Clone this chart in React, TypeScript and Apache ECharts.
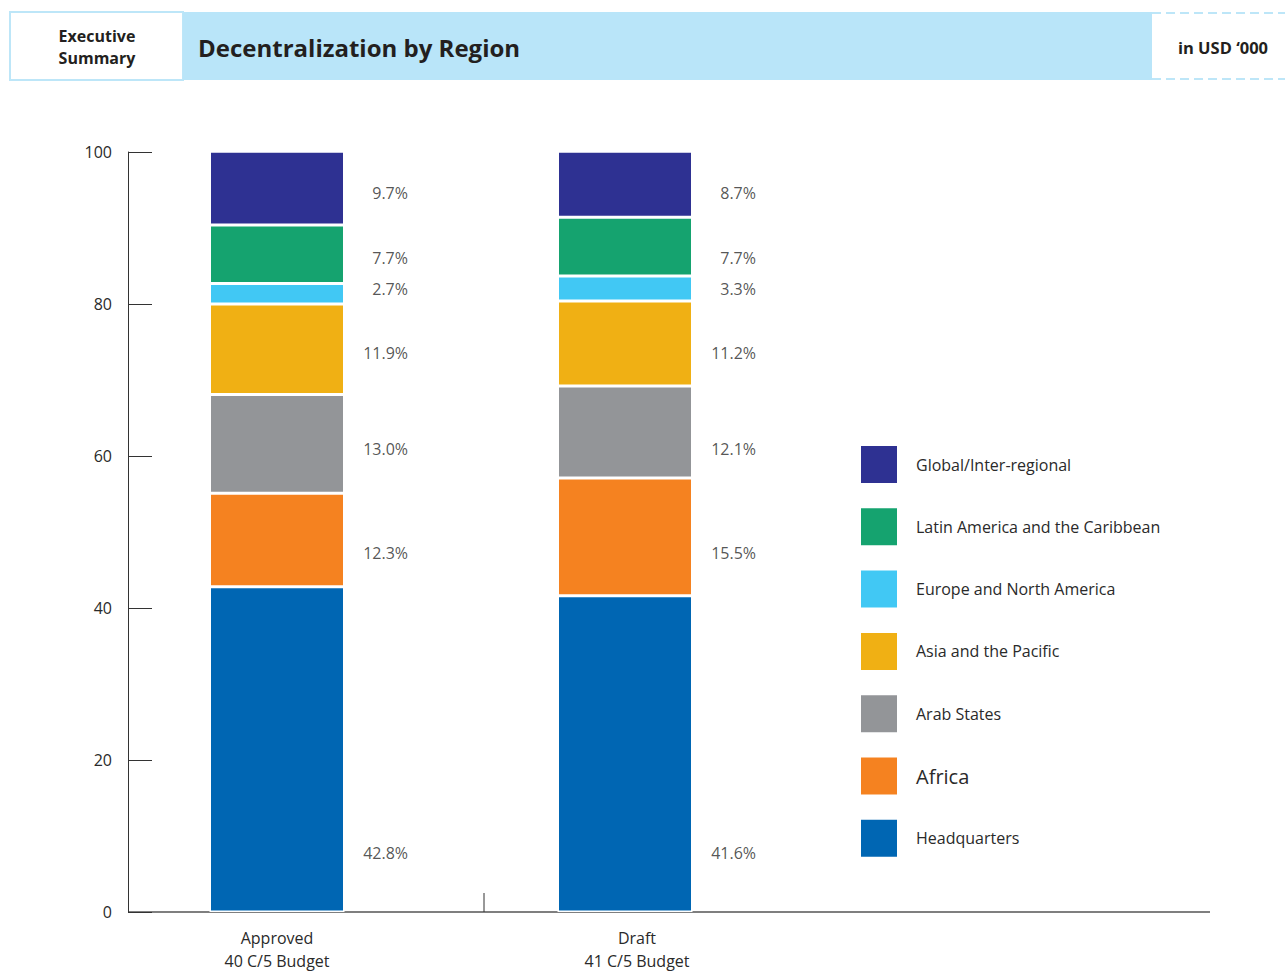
import React, { useEffect, useRef } from "react";
import * as echarts from "echarts";

const categories = ["Approved\n40 C/5 Budget", "Draft\n41 C/5 Budget"];
const seriesNames = [
  "Headquarters",
  "Africa",
  "Arab States",
  "Asia and the Pacific",
  "Europe and North America",
  "Latin America and the Caribbean",
  "Global/Inter-regional",
];
const approved = [42.8, 12.3, 13.0, 11.9, 2.7, 7.7, 9.7];
const draft = [41.6, 15.5, 12.1, 11.2, 3.3, 7.7, 8.7];
const colors = ["#0066b3", "#f58220", "#939598", "#f0b014", "#41c8f4", "#15a36f", "#2e3192"];
// vertical level (in axis units) where each percentage label sits
const labelLevels = [7.8, 47.2, 60.9, 73.6, 82.0, 86.1, 94.6];
const yMin = 0;
const yMax = 100;
const yInterval = 20;

const FONT = "'Open Sans', 'Noto Sans', sans-serif";

export default function App() {
  const ref = useRef<HTMLDivElement>(null);
  useEffect(() => {
    document.body.style.margin = "0";
    const chart = echarts.init(ref.current!, null, { renderer: "svg" });
    const values = [approved, draft];
    const barSeries = seriesNames.map((name, i) => ({
      name,
      type: "bar",
      stack: "total",
      barWidth: 135,
      data: [approved[i], draft[i]],
      itemStyle: { color: colors[i], borderColor: "#ffffff", borderWidth: 1.5 },
    }));
    const labelData: any[] = [];
    seriesNames.forEach((_, i) => {
      values.forEach((arr, c) => {
        labelData.push([c, labelLevels[i], arr[i]]);
      });
    });
    const option: any = {
      animation: false,
      textStyle: { fontFamily: FONT },
      grid: { left: 103, width: 696, top: 152, height: 760, outerBoundsMode: "none", containLabel: false },
      xAxis: {
        type: "category",
        data: categories,
        axisLine: { show: false },
        axisTick: { show: false },
        axisLabel: {
          fontSize: 16,
          lineHeight: 23,
          margin: 14,
          color: "#2a2a2a",
          fontFamily: FONT,
          formatter: (v: string, i: number) =>
            i === 1 ? v.split("\n").map((s) => "{d|" + s + "}").join("\n") : v,
          rich: { d: { fontSize: 16, lineHeight: 23, color: "#2a2a2a", fontFamily: FONT, padding: [0, 0, 0, 24] } },
        },
      },
      yAxis: {
        type: "value",
        min: yMin,
        max: yMax,
        interval: yInterval,
        offset: -25,
        axisLine: { show: true, lineStyle: { color: "#333", width: 1 } },
        axisTick: { show: true, inside: true, length: 24, lineStyle: { color: "#333", width: 1 } },
        axisLabel: { fontSize: 16, margin: 16, color: "#2a2a2a", fontFamily: FONT, padding: [0, 0, 3, 0] },
        splitLine: { show: false },
      },
      legend: {
        orient: "vertical",
        left: 859,
        top: 444,
        padding: 0,
        itemWidth: 38,
        itemHeight: 39,
        itemGap: 21.3,
        icon: "rect",
        selectedMode: false,
        data: [...seriesNames].reverse(),
        formatter: (name: string) => (name === "Africa" ? "{big|Africa}" : name),
        textStyle: {
          fontSize: 16,
          color: "#2a2a2a",
          fontFamily: FONT,
          padding: [0, 0, 0, 13],
          rich: { big: { fontSize: 20, color: "#2a2a2a", fontFamily: FONT } },
        },
      },
      series: [
        ...barSeries,
        {
          type: "scatter",
          symbolSize: 0,
          silent: true,
          data: labelData,
          label: {
            show: true,
            position: "inside",
            offset: [131, 0],
            align: "right",
            verticalAlign: "middle",
            fontSize: 16,
            color: "#2a2a2a",
            fontFamily: FONT,
            formatter: (p: any) => p.data[2].toFixed(1) + "%",
          },
        },
      ],
      graphic: [
        { type: "rect", shape: { x: 10, y: 12, width: 173, height: 68 }, style: { fill: "#ffffff", stroke: "#bde6f8", lineWidth: 2 } },
        { type: "rect", shape: { x: 183, y: 12, width: 969, height: 68 }, style: { fill: "#b9e5f9" } },
        { type: "line", shape: { x1: 1152, y1: 13, x2: 1285, y2: 13 }, style: { stroke: "#bde6f8", lineWidth: 2, lineDash: [9, 5] } },
        { type: "line", shape: { x1: 1152, y1: 79, x2: 1285, y2: 79 }, style: { stroke: "#bde6f8", lineWidth: 2, lineDash: [9, 5] } },
        {
          type: "text",
          x: 97,
          y: 47,
          style: { text: "Executive\nSummary", align: "center", verticalAlign: "middle", font: "bold 16px " + FONT, lineHeight: 22, fill: "#231f20" },
        },
        {
          type: "text",
          x: 198,
          y: 47,
          style: { text: "Decentralization by Region", align: "left", verticalAlign: "middle", font: "bold 24px " + FONT, fill: "#231f20" },
        },
        {
          type: "text",
          x: 1223,
          y: 47,
          style: { text: "in USD \u2018000", align: "center", verticalAlign: "middle", font: "bold 16.5px " + FONT, fill: "#231f20" },
        },
        { type: "line", shape: { x1: 128, y1: 912, x2: 1210, y2: 912 }, style: { stroke: "#555", lineWidth: 1.5 } },
        { type: "line", shape: { x1: 484, y1: 893, x2: 484, y2: 912 }, style: { stroke: "#333", lineWidth: 1 } },
      ],
    };
    chart.setOption(option);
    return () => chart.dispose();
  }, []);
  return <div ref={ref} style={{ width: 1285, height: 971 }} />;
}
